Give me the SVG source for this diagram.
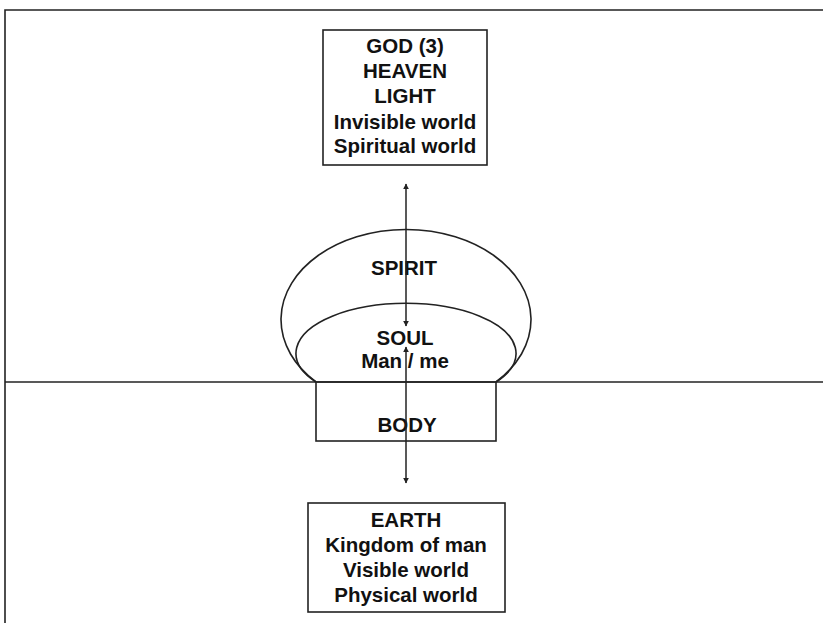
<svg xmlns="http://www.w3.org/2000/svg" width="823" height="623" viewBox="0 0 823 623">
<style>
.t{font-family:"Liberation Sans",Arial,sans-serif;font-weight:bold;font-size:20.5px;fill:#111;text-anchor:middle}
.box{fill:#fff;stroke:#222;stroke-width:1.6}
.ln{fill:none;stroke:#222;stroke-width:1.6}
.ar{stroke:#222;stroke-width:1.5;fill:none}
</style>
<defs>
<marker id="ah" viewBox="0 0 10 10" refX="9" refY="5" markerWidth="6" markerHeight="6" orient="auto-start-reverse" markerUnits="userSpaceOnUse">
<path d="M0,0 L10,5 L0,10 z" fill="#222"/>
</marker>
</defs>
<rect x="0" y="0" width="823" height="623" fill="#fff"/>
<g id="frame">
<path class="ln" d="M823,10 H5 V623" stroke-width="2"/>
<line class="ln" x1="5" y1="382" x2="823" y2="382" stroke="#333" stroke-width="2"/>
</g>
<g id="spirit">
<path class="ln" d="M316,382 A125,90 0 1 1 496,382"/>
<text class="t" x="404" y="275">SPIRIT</text>
</g>
<g id="soul">
<path class="ln" d="M316,382 A110,50 0 1 1 496,382"/>
<text class="t" x="405" y="345">SOUL</text>
<text class="t" x="405" y="368">Man / me</text>
</g>
<g id="body">
<rect class="ln" x="316" y="382" width="180" height="59"/>
<text class="t" x="407" y="432">BODY</text>
</g>
<g id="god">
<rect class="box" x="323" y="30" width="164" height="135"/>
<text class="t" x="405" y="53">GOD (3)</text>
<text class="t" x="405" y="78">HEAVEN</text>
<text class="t" x="405" y="103">LIGHT</text>
<text class="t" x="405" y="129">Invisible world</text>
<text class="t" x="405" y="153">Spiritual world</text>
</g>
<g id="earth">
<rect class="box" x="308" y="503" width="197" height="109"/>
<text class="t" x="406" y="527">EARTH</text>
<text class="t" x="406" y="552">Kingdom of man</text>
<text class="t" x="406" y="577">Visible world</text>
<text class="t" x="406" y="602">Physical world</text>
</g>
<g id="connectors">
<line class="ar" x1="406" y1="184" x2="406" y2="326" marker-start="url(#ah)" marker-end="url(#ah)"/>
<line class="ar" x1="406" y1="347" x2="406" y2="483" marker-start="url(#ah)" marker-end="url(#ah)"/>
</g>
</svg>
